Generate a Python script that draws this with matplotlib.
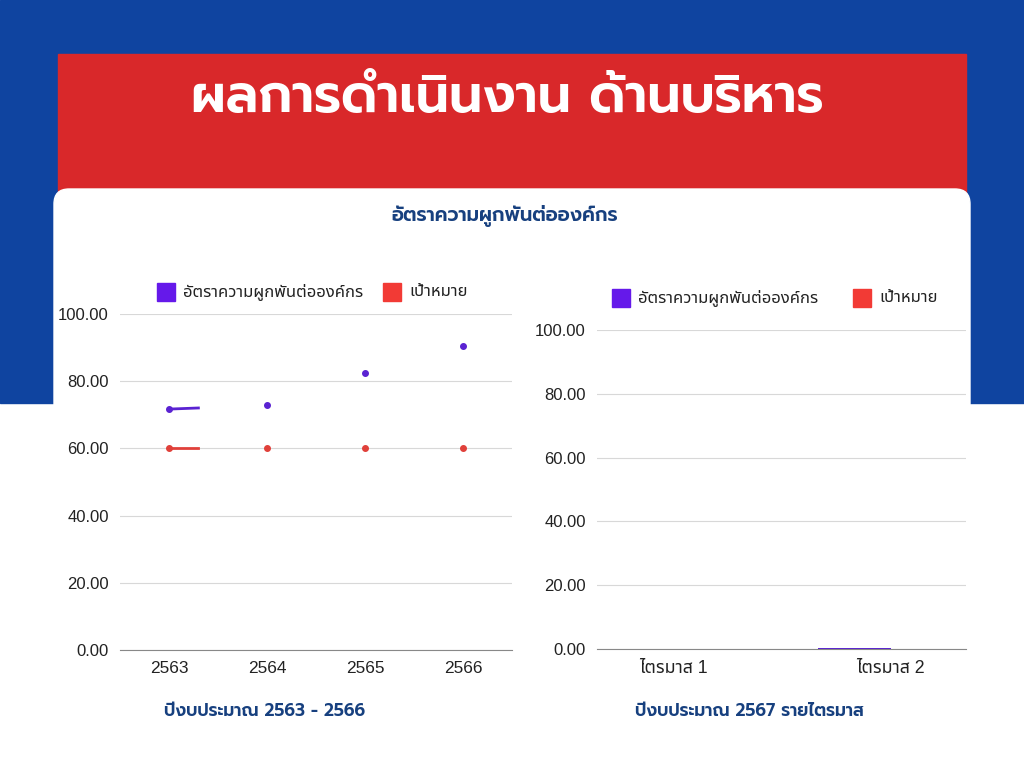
import numpy as np
import matplotlib
matplotlib.use("Agg")
import matplotlib.pyplot as plt
from matplotlib.patches import Rectangle, FancyBboxPatch

plt.rcParams['font.family'] = ['Liberation Sans', 'Noto Sans Thai', 'DejaVu Sans']

years = ['2563', '2564', '2565', '2566']
engagement = [71.7, 72.8, 82.5, 90.5]
target = [60, 60, 60, 60]
quarters = ['ไตรมาส 1', 'ไตรมาส 2']
q_engagement = [0, 0.4]
q_target = [0, 0]
yticks = [0, 20, 40, 60, 80, 100]

W, H = 1024, 768
fig = plt.figure(figsize=(W / 100, H / 100), dpi=100)
bg = fig.add_axes([0, 0, 1, 1])
bg.set_xlim(0, W)
bg.set_ylim(H, 0)
bg.axis('off')
bg.add_patch(Rectangle((0, 0), W, 403, color='#0f44a0'))
bg.add_patch(Rectangle((58, 54), 908, 200, color='#d9282a'))
bg.add_patch(FancyBboxPatch((54 + 15, 189 + 15), 916 - 30, 700, boxstyle='round,pad=15',
                            color='white'))

head = ['Prompt', 'Kanit', 'DejaVu Sans']
navy = '#17407f'
bg.text(507, 98, 'ผลการดำเนินงาน ด้านบริหาร', color='white', fontsize=37.7,
        fontweight=600, ha='center', va='center', family=head)
bg.text(505, 216, 'อัตราความผูกพันต่อองค์กร', color=navy, fontsize=14,
        fontweight=600, ha='center', va='center', family=head)
bg.text(265, 711, 'ปีงบประมาณ 2563 - 2566', color=navy, fontsize=12.4,
        fontweight=600, ha='center', va='center', family=head)
bg.text(749, 711, 'ปีงบประมาณ 2567 รายไตรมาส', color=navy, fontsize=12.4,
        fontweight=600, ha='center', va='center', family=head)

purple = '#5a22d2'
red = '#e0403a'


def style(ax):
    ax.set_ylim(0, 100)
    ax.set_yticks(yticks)
    ax.set_yticklabels(['%.2f' % v for v in yticks])
    ax.grid(axis='y', color='#d8d8d8', lw=0.8)
    ax.set_axisbelow(True)
    for s in ['top', 'right', 'left']:
        ax.spines[s].set_visible(False)
    ax.spines['bottom'].set_color('#888888')
    ax.tick_params(length=0, labelsize=12, colors='#222222', pad=8)


# left chart
ax1 = fig.add_axes([120 / W, 1 - 650 / H, 392 / W, 336 / H])
x = np.arange(len(years))
ax1.scatter(x, engagement, s=16, color=purple, zorder=3)
ax1.scatter(x, target, s=16, color=red, zorder=3)
f = 0.3
ax1.plot([0, f], [engagement[0], engagement[0] + f * (engagement[1] - engagement[0])],
         color=purple, lw=2)
ax1.plot([0, f], [target[0], target[0] + f * (target[1] - target[0])], color=red, lw=2)
ax1.set_xlim(-0.5, len(years) - 0.5)
style(ax1)
ax1.set_xticks(x)
ax1.set_xticklabels(years, fontsize=12.4)

# right chart
ax2 = fig.add_axes([597 / W, 1 - 649 / H, 369 / W, 319 / H])
xq = np.arange(len(quarters))
bw = 0.335
ax2.bar(xq - bw / 2, q_engagement, bw, color=purple)
ax2.bar(xq + bw / 2, q_target, bw, color=red)
ax2.set_xlim(-0.35, 1.345)
style(ax2)
ax2.set_xticks(xq)
ax2.set_xticklabels(quarters, fontsize=12.8)


# legends
def legend(x0, x1, y, lab):
    bg.add_patch(Rectangle((x0 - 9, y - 9), 18, 18, color='#6519ea'))
    bg.text(x0 + 17, y, lab, fontsize=12, va='center', color='#222222')
    bg.add_patch(Rectangle((x1 - 9, y - 9), 18, 18, color='#f23a35'))
    bg.text(x1 + 17, y, 'เป้าหมาย', fontsize=12, va='center', color='#222222')


legend(166, 392, 292, 'อัตราความผูกพันต่อองค์กร')
legend(621, 862, 298, 'อัตราความผูกพันต่อองค์กร')

fig.savefig('out.png', dpi=100)
